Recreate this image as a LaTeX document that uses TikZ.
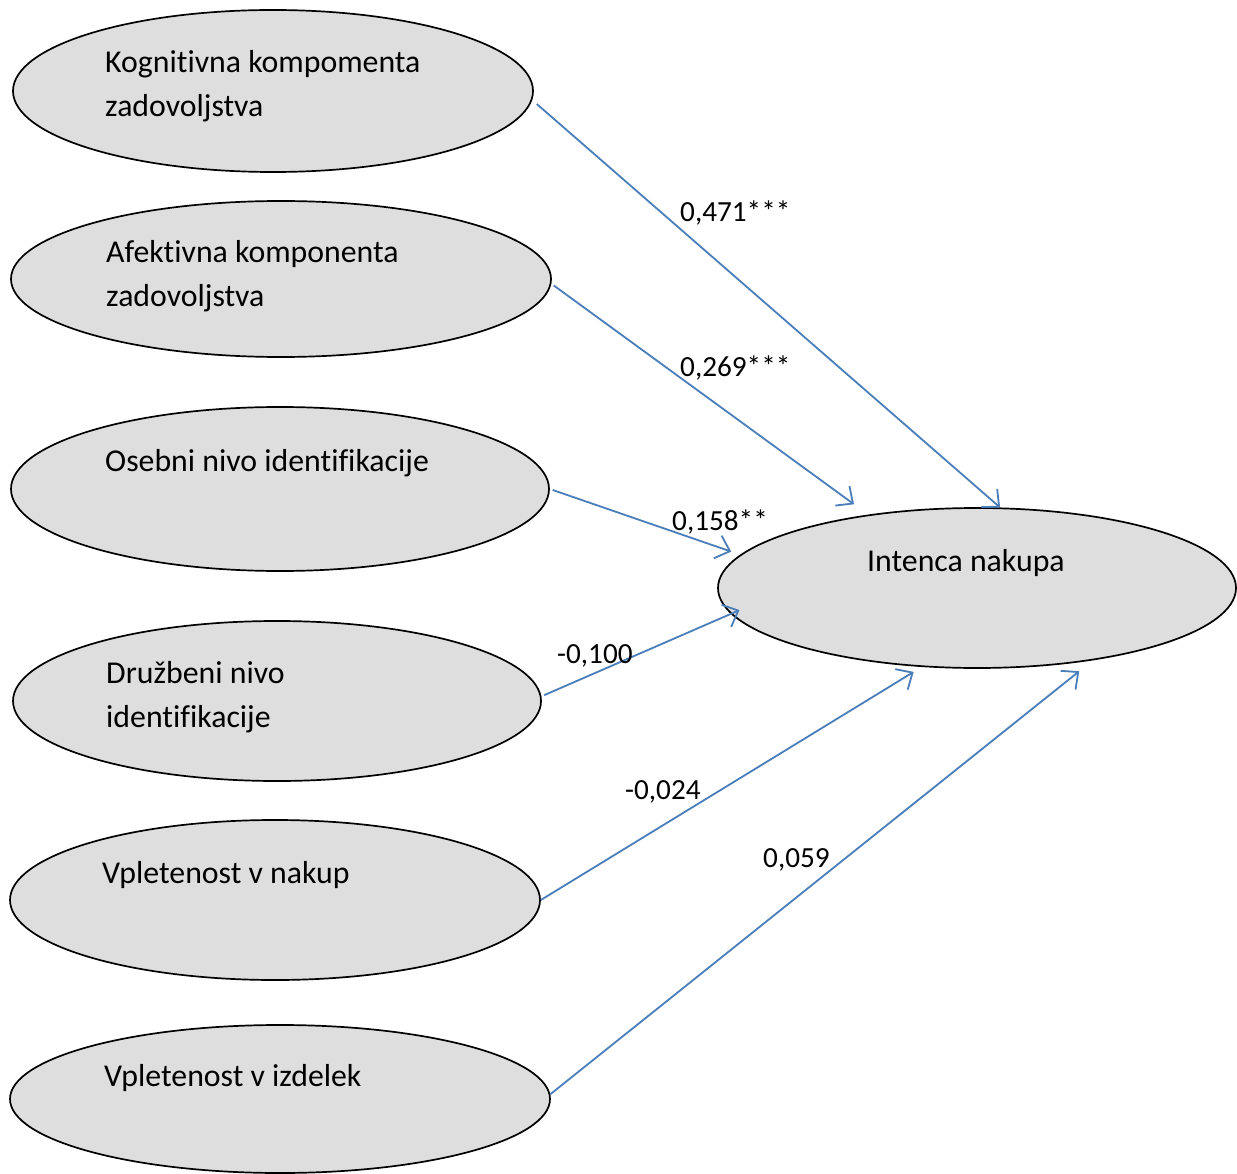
\documentclass[tikz,border=0pt]{standalone}
\usepackage{fontspec}
\setmainfont{Carlito}[Ligatures=NoCommon]
\usetikzlibrary{shapes.geometric,arrows.meta}
\definecolor{ovalfill}{RGB}{222,222,222}
\definecolor{pathblue}{RGB}{74,126,187}
\begin{document}
\begin{tikzpicture}[x=1pt,y=-1pt,
  construct/.style={ellipse,draw=black,line width=1.7pt,fill=ovalfill,inner sep=0pt},
  ovaltext/.style={anchor=base west,inner sep=0pt,align=left,
    font=\fontsize{31.8}{44}\selectfont},
  coef/.style={anchor=base west,inner sep=0pt,font=\fontsize{29.2}{35}\selectfont},
  path/.style={draw=pathblue,line width=1.8pt,
    -{Straight Barb[length=13pt,width=24pt,line width=1.8pt]}}]
\useasboundingbox (0,0) rectangle (1237,1174);

% predictor constructs
\node[construct,minimum width=520pt,minimum height=162pt] (kog) at (273,91) {};
\node[construct,minimum width=540pt,minimum height=156pt] (afe) at (281,279) {};
\node[construct,minimum width=538pt,minimum height=164pt] (ose) at (280,489) {};
\node[construct,minimum width=528pt,minimum height=160pt] (dru) at (277,701) {};
\node[construct,minimum width=530pt,minimum height=160pt] (vnak) at (275,900) {};
\node[construct,minimum width=540pt,minimum height=148pt] (vizd) at (280,1099) {};
% outcome
\node[construct,minimum width=518pt,minimum height=160pt] (int) at (977,588) {};

% construct labels (base anchor sits on the last line)
\node[ovaltext] (kogt) at (105,117) {Kognitivna kompomenta\\zadovoljstva};
\node[ovaltext] (afet) at (106,307) {Afektivna komponenta\\zadovoljstva};
\node[ovaltext] (oset) at (105,471) {Osebni nivo identifikacije};
\node[ovaltext] (drut) at (106,727) {Družbeni nivo\\identifikacije};
\node[ovaltext] (vnakt) at (102,883) {Vpletenost v nakup};
\node[ovaltext] (vizdt) at (104,1086) {Vpletenost v izdelek};
\node[ovaltext] (intt) at (867,571) {Intenca nakupa};

% structural paths, each starting a little clear of its source oval
\draw[path,shorten <=6pt] (kog.-2) -- (int.74.3);
\draw[path,shorten <=3pt,shorten >=17.5pt] (afe.-1.5) -- (int.146);
\draw[path,shorten <=3pt,shorten >=9.5pt] (ose.0) -- (int.172.1);
\draw[path,shorten <=3pt,shorten >=-9.5pt] (dru.1.3) -- (int.-174);
\draw[path,shorten >=9.4pt] (vnak.0.6) -- (int.-125.6);
\draw[path,shorten >=17.4pt] (vizd.1.9) -- (int.-32.9);

% path coefficients
\node[coef] (c1) at (680,222) {0,471***};
\node[coef] (c2) at (680,376) {0,269***};
\node[coef] (c3) at (672,530) {0,158**};
\node[coef] (c4) at (557,663) {-0,100};
\node[coef] (c5) at (625,799) {-0,024};
\node[coef] (c6) at (763,867) {0,059};
\end{tikzpicture}
\end{document}
